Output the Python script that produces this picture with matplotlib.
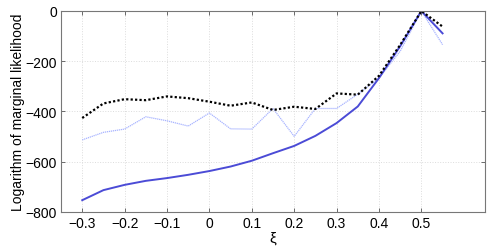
import matplotlib
matplotlib.use("Agg")
import matplotlib.pyplot as plt
import numpy as np

plt.rcParams['font.family'] = ['Liberation Sans', 'DejaVu Sans']

xi = [-0.3, -0.25, -0.2, -0.15, -0.1, -0.05, 0.0, 0.05, 0.1, 0.15,
      0.2, 0.25, 0.3, 0.35, 0.4, 0.45, 0.5, 0.55]

# three curves
solid_blue = [-753, -713, -692, -676, -665, -652, -637, -619, -596, -566,
              -537, -497, -446, -380, -267, -140, 0, -89]
light_blue = [-513, -483, -470, -421, -437, -458, -406, -469, -470, -388,
              -499, -388, -388, -331, -267, -160, 0, -134]
black_dot = [-426, -368, -351, -355, -340, -347, -361, -377, -364, -394,
             -381, -390, -328, -333, -258, -135, 0, -62]

fig = plt.figure(figsize=(5.01, 2.51), dpi=100)
ax = fig.add_axes([0.1218, 0.1514, 0.8462, 0.8008])

ax.plot(xi, light_blue, color='#a8b4ff', lw=0.9, ls=(0, (1, 0.6)))
ax.plot(xi, solid_blue, color='#4b4bd6', lw=1.4)
ax.plot(xi, black_dot, color='black', lw=1.6, ls=(0, (1, 1)))

ax.set_xlim(-0.35, 0.65)
ax.set_ylim(-800, 0)
ax.set_xticks([-0.3, -0.2, -0.1, 0, 0.1, 0.2, 0.3, 0.4, 0.5])
ax.set_xticklabels(['\u22120.3', '\u22120.2', '\u22120.1', '0', '0.1', '0.2', '0.3', '0.4', '0.5'])
ax.set_yticks([-800, -600, -400, -200, 0])
ax.set_yticklabels(['\u2212800', '\u2212600', '\u2212400', '\u2212200', '0'])
ax.grid(True, color='#dcdcdc', ls=':', lw=0.7)
ax.tick_params(direction='in', top=True, right=True, length=3, width=0.6,
               color='#555555', labelsize=10, pad=3)
for s in ax.spines.values():
    s.set_color('#777777')
    s.set_linewidth(0.8)

ax.set_xlabel('\u03be', fontsize=11, labelpad=0)
ax.set_ylabel('Logarithm of marginal likelihood', fontsize=10, labelpad=0)

fig.savefig('out.png', dpi=100)
